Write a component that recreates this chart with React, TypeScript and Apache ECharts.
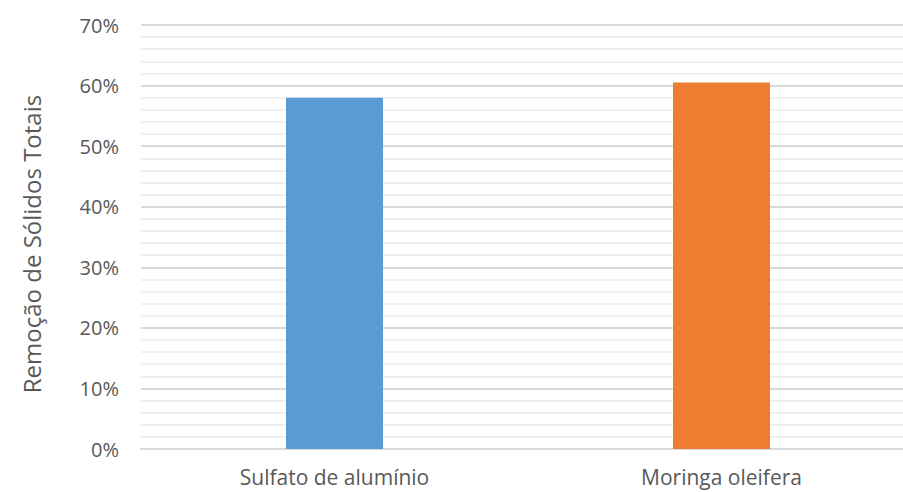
import React, { useEffect, useRef } from "react";
import * as echarts from "echarts";

const categories = ["Sulfato de alumínio", "Moringa oleifera"];
const removal = [0.58, 0.605];
const barColors = ["#5b9bd5", "#ed7d31"];
const yTicks = [0, 0.1, 0.2, 0.3, 0.4, 0.5, 0.6, 0.7];
const yAxisTitle = "Remoção de Sólidos Totais";

const FONT = "'Open Sans', 'Noto Sans', sans-serif";

export default function App() {
  const ref = useRef<HTMLDivElement>(null);

  useEffect(() => {
    if (!ref.current) return;
    const chart = echarts.init(ref.current, undefined, { renderer: "svg" });
    chart.setOption({
      animation: false,
      backgroundColor: "#ffffff",
      grid: { left: 141, top: 25, right: 0, bottom: 43, containLabel: false },
      xAxis: {
        type: "category",
        data: categories,
        axisLine: { show: true, lineStyle: { color: "#d9d9d9", width: 2 } },
        axisTick: { show: false },
        axisLabel: { color: "#595959", fontSize: 21, fontFamily: FONT, margin: 17 },
      },
      yAxis: {
        type: "value",
        min: yTicks[0],
        max: yTicks[yTicks.length - 1],
        interval: 0.1,
        name: yAxisTitle,
        nameLocation: "middle",
        nameGap: 98,
        nameRotate: 90,
        nameTextStyle: {
          color: "#595959",
          fontSize: 24,
          fontFamily: FONT,
          padding: [0, 14, 0, 0],
        },
        axisLine: { show: false },
        axisTick: { show: false },
        axisLabel: {
          color: "#595959",
          fontSize: 20,
          fontFamily: FONT,
          margin: 22,
          formatter: (v: number) => `${Math.round(v * 100)}%`,
        },
        splitLine: { lineStyle: { color: "#d9d9d9", width: 2 } },
        minorSplitLine: { show: true, lineStyle: { color: "#f0f0f0", width: 2 } },
        minorTick: { show: false, splitNumber: 5 },
      },
      series: [
        {
          type: "bar",
          barWidth: 97,
          data: removal.map((v, i) => ({ value: v, itemStyle: { color: barColors[i] } })),
        },
      ],
    });
    return () => chart.dispose();
  }, []);

  return (
    <div
      style={{
        position: "fixed",
        left: 0,
        top: 0,
        width: 903,
        height: 492,
        overflow: "hidden",
        background: "#fff",
      }}
    >
      <div ref={ref} style={{ width: 915, height: 492 }} />
    </div>
  );
}
